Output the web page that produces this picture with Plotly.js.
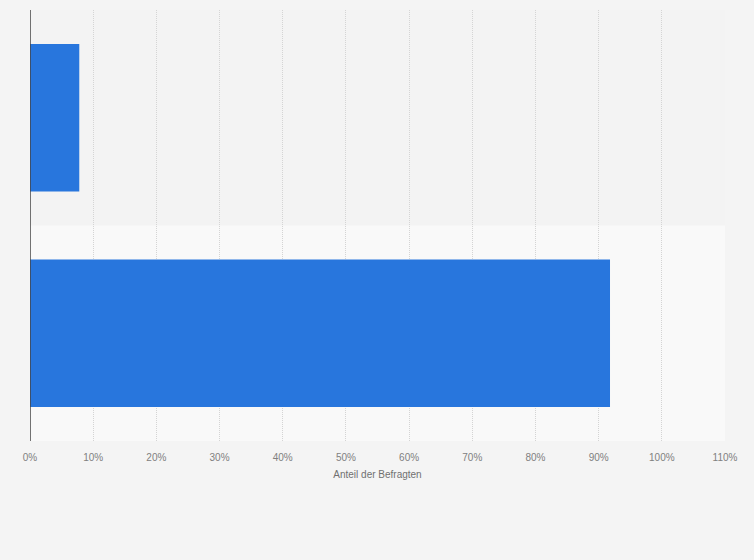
<!DOCTYPE html>
<html>
<head>
<meta charset="utf-8">
<script src="https://cdn.plot.ly/plotly-3.0.1.min.js"></script>
<style>
  html, body { margin: 0; padding: 0; background: #f4f4f4; }
  #chart { width: 754px; height: 560px; }
</style>
</head>
<body>
<div id="chart"></div>
<script>
// Antworten (Beschriftungen im Original nicht sichtbar)
const categories = ["Ja", "Nein"];
const shares = [7.8, 91.8];
const tickValues = [0, 10, 20, 30, 40, 50, 60, 70, 80, 90, 100, 110];
const tickLabels = tickValues.map((v) => v + "%");

var chartDiv = document.getElementById("chart");

var barTrace = {
  type: "bar",
  orientation: "h",
  y: categories,
  x: shares,
  width: 0.685,
  marker: { color: "#2876dd" },
  hoverinfo: "x",
};

var layout = {
  width: 754,
  height: 560,
  margin: { t: 10, b: 119, l: 30, r: 29, pad: 0 },
  paper_bgcolor: "#f4f4f4",
  plot_bgcolor: "#f3f3f3",
  showlegend: false,
  font: { family: "Liberation Sans, Arial, sans-serif", size: 10, color: "#666666" },
  // lighter band behind the second category
  shapes: [
    {
      type: "rect",
      xref: "paper",
      yref: "y",
      x0: 0,
      x1: 1,
      y0: 0.5,
      y1: 1.5,
      fillcolor: "#f9f9f9",
      line: { width: 0 },
      layer: "below",
    },
  ],
  xaxis: {
    range: [0, 110],
    tickvals: tickValues,
    ticktext: tickLabels,
    showgrid: true,
    gridcolor: "#d4d4d4",
    griddash: "1px,1px",
    gridwidth: 1,
    zeroline: false,
    showline: false,
    ticks: "outside",
    ticklen: 7,
    tickcolor: "rgba(0,0,0,0)",
    tickfont: { size: 10, color: "#808080" },
    title: {
      text: "Anteil der Befragten",
      font: { size: 10, color: "#707070" },
      standoff: 8,
    },
    fixedrange: true,
  },
  yaxis: {
    autorange: "reversed",
    showticklabels: false,
    showgrid: false,
    zeroline: false,
    showline: false,
    ticks: "",
    fixedrange: true,
  },
};

// dark vertical axis line at 0%
layout.shapes.push({
  type: "line",
  xref: "x",
  yref: "paper",
  x0: 0,
  x1: 0,
  y0: 0,
  y1: 1,
  line: { color: "#444444", width: 1.5 },
  layer: "above",
});

Plotly.newPlot(chartDiv, [barTrace], layout, { displayModeBar: false, staticPlot: true });
</script>
</body>
</html>
